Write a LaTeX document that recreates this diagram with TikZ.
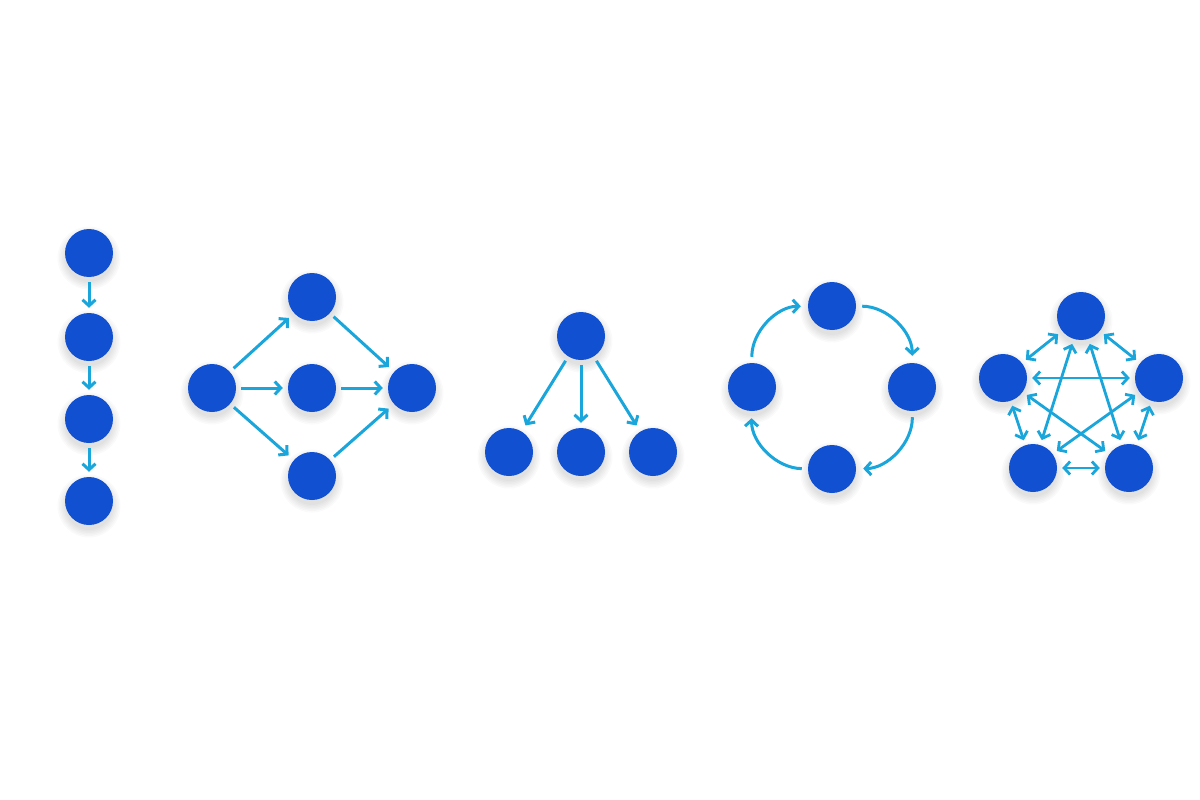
\documentclass[tikz,border=0pt]{standalone}
\usetikzlibrary{arrows.meta}
\definecolor{nodeblue}{HTML}{1150D1}
\definecolor{edgeblue}{HTML}{1AA6DB}
\newcommand\gnode[3]{%
  \foreach \rr in {24,25.5,27,28.5,30,31.5}{\fill[black,opacity=0.018] (#2,#3+5) circle[radius=\rr];}
  \node[dot] (#1) at (#2,#3) {};}
\begin{document}
\begin{tikzpicture}[x=1pt,y=-1pt,
  dot/.style={circle,fill=nodeblue,minimum size=48pt,inner sep=0pt,draw=none},
  tip/.tip={Straight Barb[length=6pt,width=13pt]},
  link/.style={draw=edgeblue,line width=3pt,-tip,shorten <=5pt,shorten >=5pt},
  dlink/.style={draw=edgeblue,line width=2.8pt,tip-tip,shorten <=5pt,shorten >=5pt}]
\fill[white] (0,0) rectangle (1200,800);
\useasboundingbox (0,0) rectangle (1200,800);
% chain
\gnode{c1}{89}{253}
\gnode{c2}{89}{337}
\gnode{c3}{89}{419}
\gnode{c4}{89}{501}
\draw[link] (c1) -- (c2);
\draw[link] (c2) -- (c3);
\draw[link] (c3) -- (c4);
% diamond
\gnode{dl}{212}{388}
\gnode{dt}{312}{297}
\gnode{dm}{312}{388}
\gnode{db}{312}{476}
\gnode{dr}{412}{388}
\draw[link,shorten >=7pt] (dl) -- (dt);
\draw[link] (dl) -- (dm);
\draw[link,shorten >=7pt] (dl) -- (db);
\draw[link,shorten >=7pt] (dt) -- (dr);
\draw[link] (dm) -- (dr);
\draw[link,shorten >=7pt] (db) -- (dr);
% tree
\gnode{tt}{581}{336}
\gnode{t1}{509}{452}
\gnode{t2}{581}{452}
\gnode{t3}{653}{452}
\draw[link,shorten >=7pt] (tt) -- (t1);
\draw[link] (tt) -- (t2);
\draw[link,shorten >=7pt] (tt) -- (t3);
% cycle
\gnode{ot}{832}{306}
\gnode{ol}{752}{387}
\gnode{or}{912}{387}
\gnode{ob}{832}{469}
\draw[link,shorten <=6pt,shorten >=7pt] (ol) to[bend left=45] (ot);
\draw[link,shorten <=6pt,shorten >=7pt] (ot) to[bend left=45] (or);
\draw[link,shorten <=6pt,shorten >=7pt] (or) to[bend left=45] (ob);
\draw[link,shorten <=6pt,shorten >=7pt] (ob) to[bend left=45] (ol);
% pentagon
\gnode{pt}{1081}{316}
\gnode{pl}{1003}{378}
\gnode{pr}{1159}{378}
\gnode{pbl}{1033}{468}
\gnode{pbr}{1129}{468}
\draw[dlink] (pl) -- (pt);
\draw[dlink] (pt) -- (pr);
\draw[dlink] (pl) -- (pr);
\draw[dlink] (pl) -- (pbl);
\draw[dlink] (pr) -- (pbr);
\draw[dlink] (pbl) -- (pbr);
\draw[dlink] (pt) -- (pbl);
\draw[dlink] (pt) -- (pbr);
\draw[dlink] (pl) -- (pbr);
\draw[dlink] (pr) -- (pbl);
\end{tikzpicture}
\end{document}
